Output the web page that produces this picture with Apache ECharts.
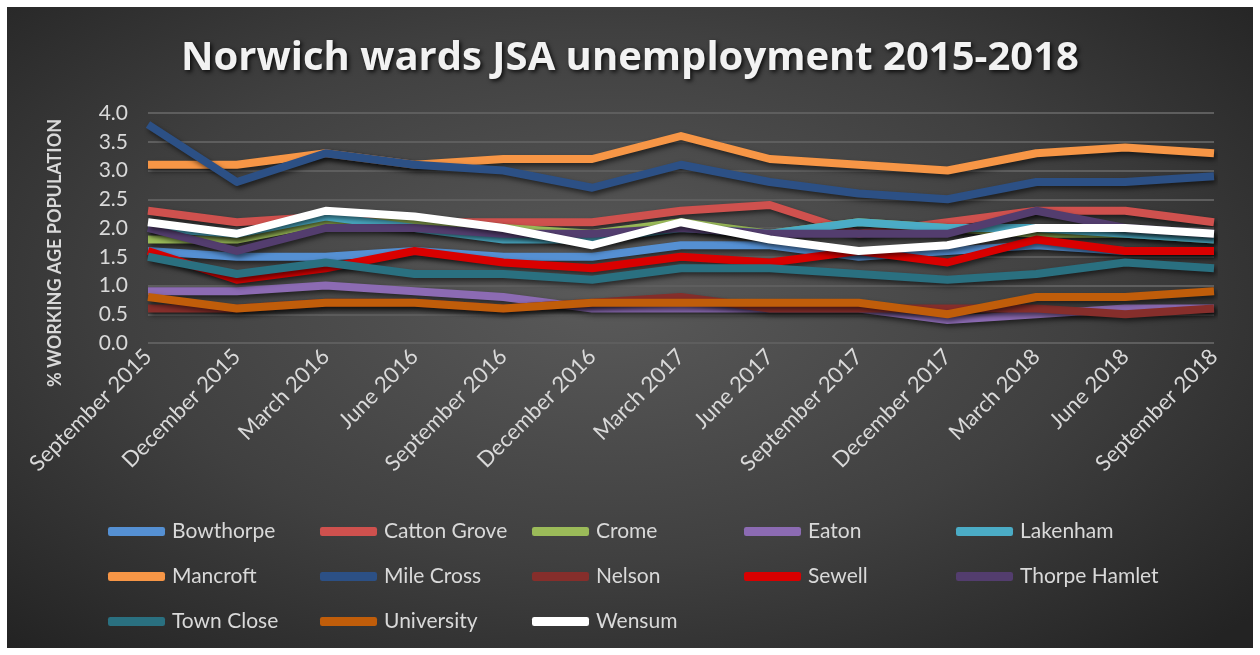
<!DOCTYPE html>
<html>
<head>
<meta charset="utf-8">
<script src="https://cdn.jsdelivr.net/npm/echarts@6/dist/echarts.min.js"></script>
<style>
html,body{margin:0;padding:0;background:#fff;width:1260px;height:655px;overflow:hidden;}
#chart{position:absolute;left:7px;top:7px;width:1246px;height:641px;
background:radial-gradient(ellipse 70% 75% at 48% 45%, #5a5a5a 0%, #404040 55%, #232323 100%);}
</style>
</head>
<body>
<div id="chart"></div>
<script>
const categories = ['September 2015','December 2015','March 2016','June 2016','September 2016','December 2016','March 2017','June 2017','September 2017','December 2017','March 2018','June 2018','September 2018'];
const yTicks = [0, 0.5, 1.0, 1.5, 2.0, 2.5, 3.0, 3.5, 4.0];
const wards = ['Bowthorpe','Catton Grove','Crome','Eaton','Lakenham','Mancroft','Mile Cross','Nelson','Sewell','Thorpe Hamlet','Town Close','University','Wensum'];
const bowthorpe    = [1.6,1.5,1.5,1.6,1.5,1.5,1.7,1.7,1.5,1.6,1.7,1.6,1.6];
const cattonGrove  = [2.3,2.1,2.2,2.1,2.1,2.1,2.3,2.4,1.9,2.1,2.3,2.3,2.1];
const crome        = [1.8,1.8,2.1,2.1,2.0,1.9,2.1,1.9,2.1,2.0,1.9,1.9,1.8];
const eaton        = [0.9,0.9,1.0,0.9,0.8,0.6,0.6,0.6,0.6,0.4,0.5,0.6,0.6];
const lakenham     = [2.0,1.9,2.2,2.0,1.8,1.8,2.0,1.9,2.1,2.0,2.0,1.9,1.8];
const mancroft     = [3.1,3.1,3.3,3.1,3.2,3.2,3.6,3.2,3.1,3.0,3.3,3.4,3.3];
const mileCross    = [3.8,2.8,3.3,3.1,3.0,2.7,3.1,2.8,2.6,2.5,2.8,2.8,2.9];
const nelson       = [0.6,0.6,0.7,0.7,0.6,0.7,0.8,0.6,0.6,0.6,0.6,0.5,0.6];
const sewell       = [1.6,1.1,1.3,1.6,1.4,1.3,1.5,1.4,1.6,1.4,1.8,1.6,1.6];
const thorpeHamlet = [2.0,1.6,2.0,2.0,1.9,1.9,2.0,1.9,1.9,1.9,2.3,2.0,1.9];
const townClose    = [1.5,1.2,1.4,1.2,1.2,1.1,1.3,1.3,1.2,1.1,1.2,1.4,1.3];
const university   = [0.8,0.6,0.7,0.7,0.6,0.7,0.7,0.7,0.7,0.5,0.8,0.8,0.9];
const wensum       = [2.1,1.9,2.3,2.2,2.0,1.7,2.1,1.8,1.6,1.7,2.0,2.0,1.9];

const seriesData = [bowthorpe,cattonGrove,crome,eaton,lakenham,mancroft,mileCross,nelson,sewell,thorpeHamlet,townClose,university,wensum];
const colors = ['#5590d3','#cf514e','#9bbb59','#8c6bb3','#4bacc6','#f79646','#2c5085','#862e2b','#d90000','#533d6e','#2a7080','#c05d0a','#ffffff'];

const FONT = 'Lato, "Open Sans", sans-serif';
const chart = echarts.init(document.getElementById('chart'));
chart.setOption({
  backgroundColor: 'transparent',
  color: colors,
  title: {
    text: 'Norwich wards JSA unemployment 2015-2018',
    left: 'center', top: 27,
    textStyle: {
      color: '#f2f2f2', fontSize: 40, fontWeight: 'bold', fontFamily: '"Open Sans", Lato, sans-serif',
      textShadowColor: 'rgba(0,0,0,0.8)', textShadowBlur: 4, textShadowOffsetX: 2, textShadowOffsetY: 2
    }
  },
  grid: { left: 141, right: 39, top: 106, bottom: 305, containLabel: false },
  legend: {
    data: wards,
    left: 96, top: 497, width: 1100,
    orient: 'horizontal',
    itemWidth: 57, itemHeight: 9, itemGap: 0,
    icon: 'roundRect',
    textStyle: { color: '#d9d9d9', fontSize: 21, fontFamily: FONT, width: 148, lineHeight: 45, padding: [0,0,0,2] }
  },
  xAxis: {
    type: 'category', data: categories, boundaryGap: false,
    axisLine: { show: false }, axisTick: { show: false },
    axisLabel: { color: '#d9d9d9', fontSize: 22, fontFamily: FONT, rotate: 45, margin: 10, interval: 0 }
  },
  yAxis: {
    type: 'value', min: yTicks[0], max: yTicks[yTicks.length-1], interval: 0.5,
    name: '% WORKING AGE POPULATION', nameLocation: 'middle', nameGap: 84, nameRotate: 90,
    nameTextStyle: { color: '#d9d9d9', fontSize: 18, fontWeight: 'bold', fontFamily: FONT, padding: [0, 50, 0, 0] },
    axisLine: { show: false }, axisTick: { show: false },
    axisLabel: { color: '#d9d9d9', fontSize: 21, fontFamily: FONT, margin: 20, formatter: v => v.toFixed(1) },
    splitLine: { lineStyle: { color: '#5e5e5e', width: 2 } }
  },
  series: wards.map((w, i) => ({
    name: w, type: 'line', data: seriesData[i],
    symbol: 'none', smooth: false,
    lineStyle: { width: 8, color: colors[i], shadowColor: 'rgba(0,0,0,0.55)', shadowBlur: 5, shadowOffsetX: 2, shadowOffsetY: 3, join: 'round' },
    animation: false
  }))
});
</script>
</body>
</html>
